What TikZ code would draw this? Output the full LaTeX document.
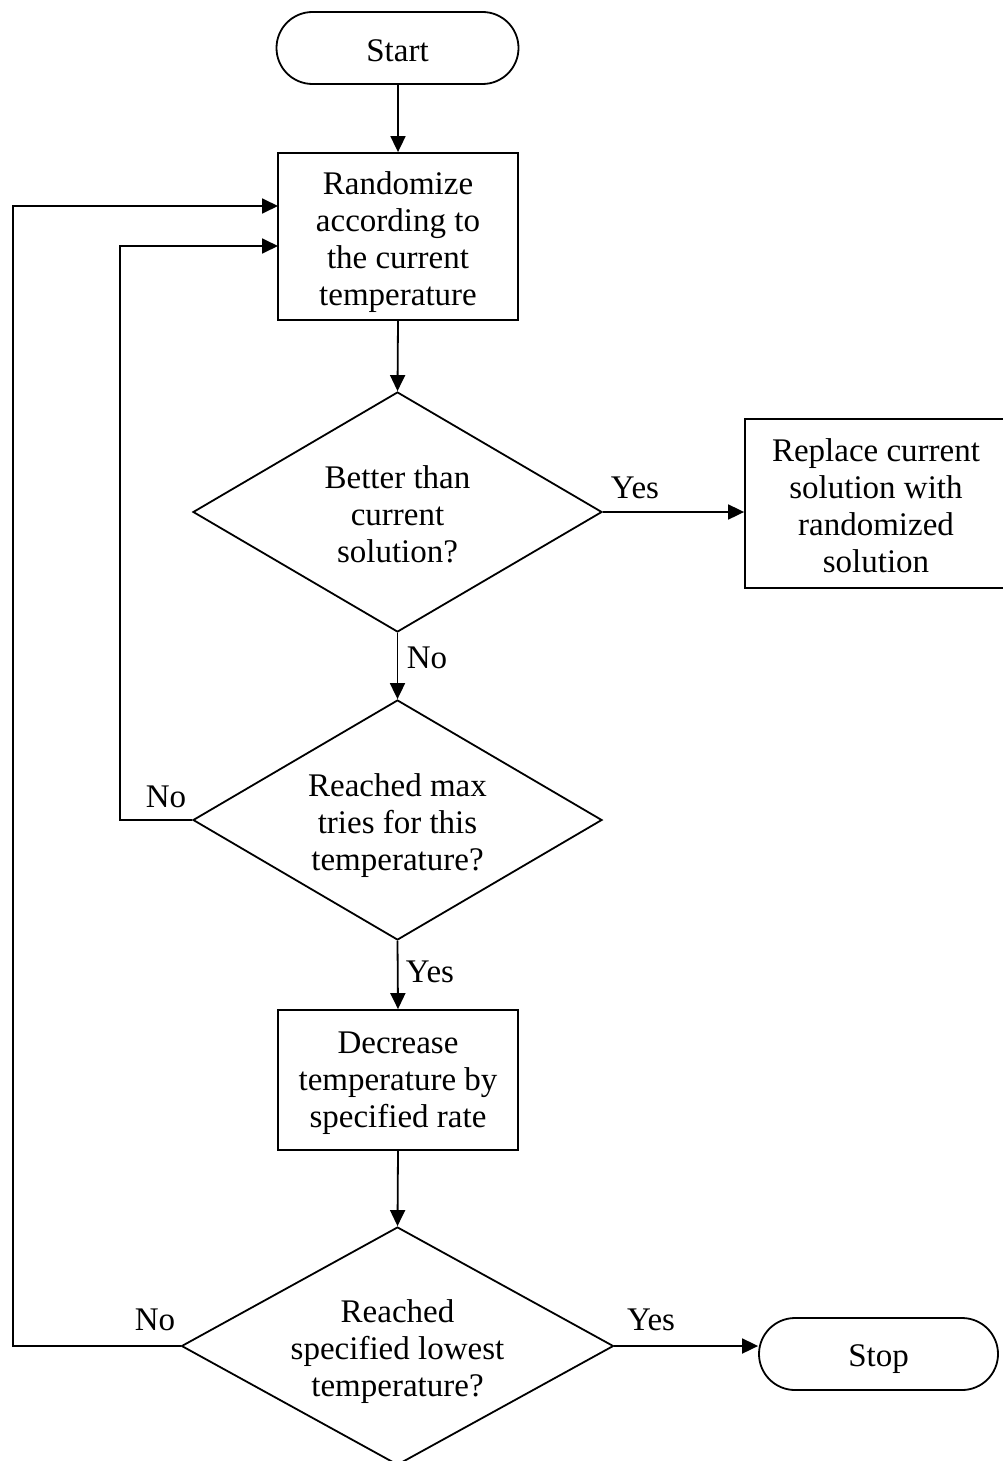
\documentclass[tikz,border=0pt]{standalone}
\usepackage{fontspec}
\setmainfont{Liberation Serif}
\usetikzlibrary{shapes.geometric,shapes.misc,arrows.meta}
% a taller first line pushes a text block down inside its frame
\newcommand\firstlift[1]{\rule{0pt}{#1}}
\begin{document}
\begin{tikzpicture}[x=1pt,y=-1pt,
  every node/.style={font=\fontsize{33}{37}\selectfont, align=center, inner sep=0pt},
  terminal/.style={draw, line width=1.8pt, rounded rectangle, minimum width=242pt, minimum height=72pt},
  process/.style={draw, line width=1.8pt, rectangle},
  decision/.style={draw, line width=1.8pt, diamond, shape aspect=1.8, minimum width=409pt, minimum height=240pt},
  arr/.style={line width=1.8pt, -{Triangle[length=16pt,width=15pt]}},
  lbl/.style={}]
  \useasboundingbox (0,0) rectangle (1003,1461);
  \clip (0,0) rectangle (1003,1461);

  % nodes
  \node[terminal] (start) at (397.5,48) {\firstlift{27pt}Start};
  \node[process, minimum width=240pt, minimum height=167pt] (rand) at (398,236.5)
    {\firstlift{34pt}Randomize\\according to\\the current\\temperature};
  \node[decision] (d1) at (397.5,512) {\firstlift{27pt}Better than\\current\\solution?};
  \node[process, minimum width=262pt, minimum height=169pt] (repl) at (876,503.5)
    {\firstlift{27pt}Replace current\\solution with\\randomized\\solution};
  \node[decision] (d2) at (397.5,820) {\firstlift{34pt}Reached max\\tries for this\\temperature?};
  \node[process, minimum width=240pt, minimum height=140pt] (dec) at (398,1080)
    {\firstlift{27pt}Decrease\\temperature by\\specified rate};
  \node[decision, minimum width=432pt, minimum height=238pt] (d3) at (397.5,1346)
    {\firstlift{33pt}Reached\\specified lowest\\temperature?};
  \node[terminal, minimum width=239pt] (stop) at (878.5,1354) {\firstlift{31pt}Stop};

  % entry points of the two loops on the left side of the randomize box
  \coordinate (outerIn) at (278,206);
  \coordinate (innerIn) at (278,246);

  % connectors
  \draw[arr] (start.south -| rand.north) -- (rand.north);
  \draw[arr] (rand.south) -- (d1.north);
  \draw[arr] (d1.east) -- (d1.east -| repl.west);
  \draw[arr] (d1.south) -- (d2.north);
  \draw[arr] (d2.west) -- ++(-72,0) |- (innerIn);
  \draw[arr] (d2.south) -- (dec.north);
  \draw[arr] (dec.south) -- (d3.north);
  \draw[arr] (d3.west) -- ++(-168,0) |- (outerIn);
  \draw[arr] (d3.east) -- (d3.east -| stop.west);

  % branch labels
  \node[lbl] (y1) at (635,488) {Yes};
  \node[lbl] (n1) at (427,658) {No};
  \node[lbl] (n2) at (166,797) {No};
  \node[lbl] (y2) at (430,972) {Yes};
  \node[lbl] (n3) at (155,1320) {No};
  \node[lbl] (y3) at (651,1320) {Yes};
\end{tikzpicture}
\end{document}
